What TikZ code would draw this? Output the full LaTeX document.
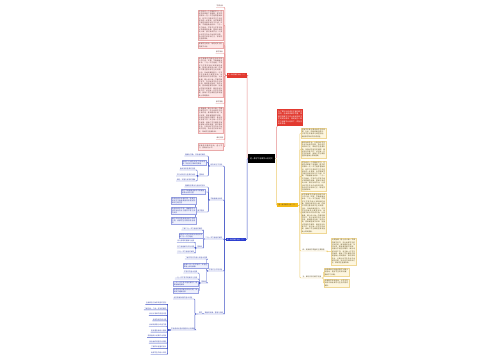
\documentclass[tikz,border=0pt]{standalone}
\usepackage{fontspec}
\newfontfamily\cjk{Noto Sans CJK SC}
\XeTeXlinebreaklocale "zh"
\XeTeXlinebreakskip=0pt plus 0.3pt
\pgfdeclarelayer{bg}
\pgfsetlayers{bg,main}
\definecolor{rline}{HTML}{E58A8A}
\definecolor{rfill}{HTML}{FDE6E6}
\definecolor{rbord}{HTML}{E9A9A9}
\definecolor{rtext}{HTML}{6B4545}
\definecolor{rmain}{HTML}{E2392F}
\definecolor{bline}{HTML}{3F51C5}
\definecolor{bmainc}{HTML}{2A3CCF}
\definecolor{bfill}{HTML}{EEF0FC}
\definecolor{bbord}{HTML}{9AA3E3}
\definecolor{btext}{HTML}{3D4AA8}
\definecolor{gline}{HTML}{ECCB6E}
\definecolor{gfill}{HTML}{FDF6DF}
\definecolor{gbord}{HTML}{EFD795}
\definecolor{gtext}{HTML}{5E4E22}
\definecolor{gmain}{HTML}{F3B915}
\newcommand\mmA{本学期教学内容包括相交线与平行线、实数、平面直角坐标系、二元一次方程组、不等式与不等式组以及数据的收集、整理与描述共六章。}
\newcommand\mmB{学生经过一个学期的学习，已经初步掌握了有理数、整式的加减和一元一次方程等基础知识，但学习习惯和学习方法还有待进一步提高。}
\newcommand\mmC{在教学中要注重培养学生的观察、分析、归纳和概括能力，引导学生积极参与课堂活动，体验数学知识的形成过程。}
\newcommand\mmD{认真备课，精心设计每一节课的教学环节，充分发挥学生的主体作用，做到精讲多练，及时反馈，提高课堂教学效率。}
\newcommand\mmE{加强对学困生的辅导，做好培优补差工作，关注每一位学生的发展，使每个学生都能在原有基础上得到提高。}
\newcommand\mmF{按时批改作业，认真分析学生作业中出现的问题，及时进行讲评和订正，帮助学生查漏补缺。}
\tikzset{
  txt/.style={font=\cjk\fontsize{1.7}{2.3}\selectfont, inner sep=0.6},
  blk/.style={txt, text width=23.4, align=justify, line width=0.3},
  rblk/.style={blk, fill=rfill, draw=rbord, text=rtext, anchor=north east},
  gblk/.style={blk, fill=gfill, draw=gbord, text=gtext, anchor=north west},
  bbox/.style={blk, fill=bfill, draw=bbord, text=btext, anchor=east, font=\cjk\fontsize{1.7}{2.1}\selectfont},
  rlab/.style={txt, text=rtext, anchor=south east, inner sep=0.4},
  blab/.style={txt, text=btext, anchor=south east, inner sep=0.4},
  glab/.style={txt, text=gtext, anchor=south west, inner sep=0.4},
  mainbox/.style={font=\cjk\fontsize{1.6}{2}\selectfont, inner sep=0.6, minimum width=20, minimum height=4.5},
  rl/.style={draw=rline, line width=0.45, rounded corners=0.8},
  bl/.style={draw=bline, line width=0.45, rounded corners=0.8},
  gl/.style={draw=gline, line width=0.45, rounded corners=0.8},
}
\begin{document}
\begin{tikzpicture}[x=1bp,y=-1bp]
\useasboundingbox (0,0) rectangle (500,360);
% central
\node[font=\cjk\fontsize{1.9}{2.4}\selectfont, fill=black, text=white, text width=23, align=center, inner sep=2, minimum height=9] (central) at (261.5,158.5) {初一数学下册教学计划范文};
% ---------- red branch (left top)
\node[mainbox, fill=rmain, text=white] (redmain) at (237,75.3) {初一数学教学计划（一）};
\node[rlab] (r1) at (224,7.5) {学情分析};
\node[rblk, minimum height=29] (r2) at (223,10) {\mmB\mmA\mmF};
\node[rblk, minimum height=6.5] (r3) at (223,42) {根据学生实际，制定切实可行的教学计划。};
\node[rlab] (r4) at (223.5,53.5) {教学目标};
\node[rblk, minimum height=40] (r5) at (223,57) {\mmA\mmC\mmD\mmE};
\node[rlab] (r6) at (223.5,103.5) {教学措施};
\node[rblk, minimum height=26] (r7) at (223,107) {\mmD\mmE\mmF};
\node[rlab] (r8) at (224,139.5) {课时安排};
\node[rblk, minimum height=7] (r9) at (223,143) {积极参加教研活动，虚心学习，提高业务水平。};
% ---------- red node (right top)
\node[font=\cjk\fontsize{1.8}{2.5}\selectfont, fill=rmain, text=white, text width=24, align=justify, inner sep=1, minimum height=17, anchor=north west] (redR) at (277,109) {为了更好地完成本学期的教学任务，全面提高教学质量，根据学校教学工作计划和本班学生的实际情况，特制定初一数学下册教学计划如下，供各位老师参考。};
% ---------- gold branch
\node[mainbox, fill=gmain, text=gtext, minimum width=21, minimum height=4] (gmainn) at (287.5,205.3) {初一数学教学计划（三）};
\node[gblk, minimum height=10] (g1) at (301,128) {\mmC};
\node[gblk, minimum height=16] (g2) at (301,141) {\mmF\mmE};
\node[gblk, minimum height=29] (g3) at (301,161) {\mmB\mmA\mmF};
\node[gblk, minimum height=40] (g4) at (301,193) {\mmA\mmC\mmD\mmE};
\node[glab] (g5) at (302,251) {四、提高教学质量的主要措施};
\node[gblk, minimum height=27] (g51) at (331,238) {\mmD\mmE\mmF};
\node[glab] (g6) at (302,278) {五、课时安排与教学进度};
\node[gblk, minimum height=8] (g61) at (324,268) {利用课余时间组织数学兴趣小组活动，拓宽学生的知识面，激发学习兴趣。};
\node[gblk, minimum height=8] (g62) at (324,279) {开展数学实践活动，让学生在实践中体会数学与生活的密切联系。};
% ---------- blue branch
\node[mainbox, fill=bmainc, text=white, minimum height=3.6, inner sep=0.3] (bmain) at (236,239.6) {初一数学教学计划（二）};
\node[blab] (L2a) at (223,166) {相交线与平行线};
\node[blab] (a1) at (206,156) {理解对顶角、邻补角的概念};
\node[bbox, text width=23] (a2) at (206,162.7) {掌握平行线的判定方法和性质，并能进行简单的推理};
\node[blab] (a3) at (205,176) {重难点};
\node[blab] (a31) at (196,170) {垂线及其性质的应用};
\node[blab] (a32) at (196,176) {平行线判定与性质的综合};
\node[blab] (a33) at (196,181) {命题、定理与证明的理解};
\node[blab] (L2b) at (223,200) {平面直角坐标系};
\node[blab] (b1) at (206,187) {理解有序数对与坐标的意义};
\node[bbox, text width=22.4] (b2) at (205,192) {能在平面直角坐标系中根据坐标描出点的位置};
\node[blab] (b3) at (205,212) {教学重点};
\node[bbox] (b31) at (196,201) {用坐标表示地理位置，能建立适当的平面直角坐标系描述物体所在的位置};
\node[bbox] (b32) at (196,210.5) {用坐标表示平移，理解图形上点的坐标变化与图形平移之间的关系};
\node[bbox] (b33) at (196,220.5) {通过实际问题体会坐标方法的应用，发展学生的数形结合思想};
\node[blab] (L2c) at (223,239) {二元一次方程组的解法};
\node[blab] (c1) at (203,230) {了解二元一次方程组的概念};
\node[bbox, text width=23] (c2) at (203,235.5) {会用代入消元法和加减消元法解二元一次方程组};
\node[blab] (c3) at (203,248) {重难点};
\node[blab] (c31) at (195,242.5) {消元思想的理解与运用};
\node[blab] (c32) at (195,248) {列方程组解决实际问题};
\node[blab] (c33) at (195,253) {三元一次方程组的解法};
\node[blab] (L2d) at (223,271) {不等式与不等式组};
\node[blab] (d1) at (208,259) {了解不等式的意义和基本性质};
\node[bbox] (d2) at (208,265.5) {会解一元一次不等式，并能在数轴上表示解集};
\node[blab] (d3) at (207,283) {重难点};
\node[blab] (d31) at (198,273) {不等式的基本性质};
\node[blab] (d32) at (198,279) {一元一次不等式的解法与应用};
\node[bbox] (d33) at (198,283.5) {一元一次不等式组的解法，用数轴确定解集};
\node[bbox] (d34) at (198,291) {利用不等式解决实际问题，体会数学建模思想};
\node[blab] (L2e) at (224,314) {数据的收集、整理与描述};
\node[blab] (e0) at (203,314) {要求};
\node[blab] (e1) at (193,299) {经历数据处理的基本过程};
\node[blab] (e2) at (195.5,330) {学会用统计图表描述和分析数据};
\foreach \t [count=\k] in {全面调查与抽样调查的区别,了解总体、个体、样本的概念,会设计简单的调查问卷,会制作扇形统计图,会绘制频数分布直方图,能读懂各种统计图表,能根据统计结果作出判断,体会抽样调查的合理性,了解样本容量的意义,发展学生的统计观念}
  \node[blab] (e2\k) at (167,{304.3+5.55*(\k-1)}) {\t};
% ---------- connectors
\begin{pgfonlayer}{bg}
\draw[rl] (central.west) -- ++(-0.7,0) |- (redmain.east);
\draw[bl] (central.west) -- ++(-0.7,0) |- (bmain.east);
\draw[rl] (central.east) -- ++(1.3,0) |- (redR.south west);
\draw[gl] (central.east) -- ++(1.3,0) |- (gmainn.west);
% red
\foreach \n in {r1,r4,r6,r8}
  \draw[rl] (redmain.west) -- ++(-2,0) |- (\n.south east) -- (\n.south west);
\foreach \n in {r2,r3,r5,r7,r9}
  \draw[rl] (redmain.west) -- ++(-2,0) |- (\n.east);
% gold
\foreach \n in {g1,g2,g3,g4}
  \draw[gl] (gmainn.east) -- ++(1.8,0) |- (\n.west);
\foreach \n in {g5,g6}
  \draw[gl] (gmainn.east) -- ++(1.8,0) |- (\n.south west) -- (\n.south east);
\draw[gl] (g5.south east) -- ++(2,0) |- (g51.west);
\foreach \n in {g61,g62}
  \draw[gl] (g6.south east) -- ++(1.5,0) |- (\n.west);
% blue
\foreach \n in {L2a,L2b,L2c,L2d,L2e}
  \draw[bl] (bmain.west) -- ++(-1.5,0) |- (\n.south east) -- (\n.south west);
\foreach \p/\n in {L2a/a1,L2a/a3,a3/a31,a3/a32,a3/a33,L2b/b1,L2b/b3,L2c/c1,L2c/c3,c3/c31,c3/c32,c3/c33,L2d/d1,L2d/d3,d3/d31,d3/d32,L2e/e0}
  \draw[bl] (\p.south west) -- ++(-1.5,0) |- (\n.south east) -- (\n.south west);
\foreach \p/\n in {L2a/a2,L2b/b2,b3/b31,b3/b32,b3/b33,L2c/c2,L2d/d2,d3/d33,d3/d34}
  \draw[bl] (\p.south west) -- ++(-1.5,0) |- (\n.east);
\foreach \n in {e1,e2}
  \draw[bl] (e0.south west) -- ++(-3.5,0) |- (\n.south east) -- (\n.south west);
\foreach \k in {1,...,10}
  \draw[bl] (e2.south west) -- ++(-3,0) |- (e2\k.south east) -- (e2\k.south west);
\end{pgfonlayer}
\end{tikzpicture}
\end{document}
